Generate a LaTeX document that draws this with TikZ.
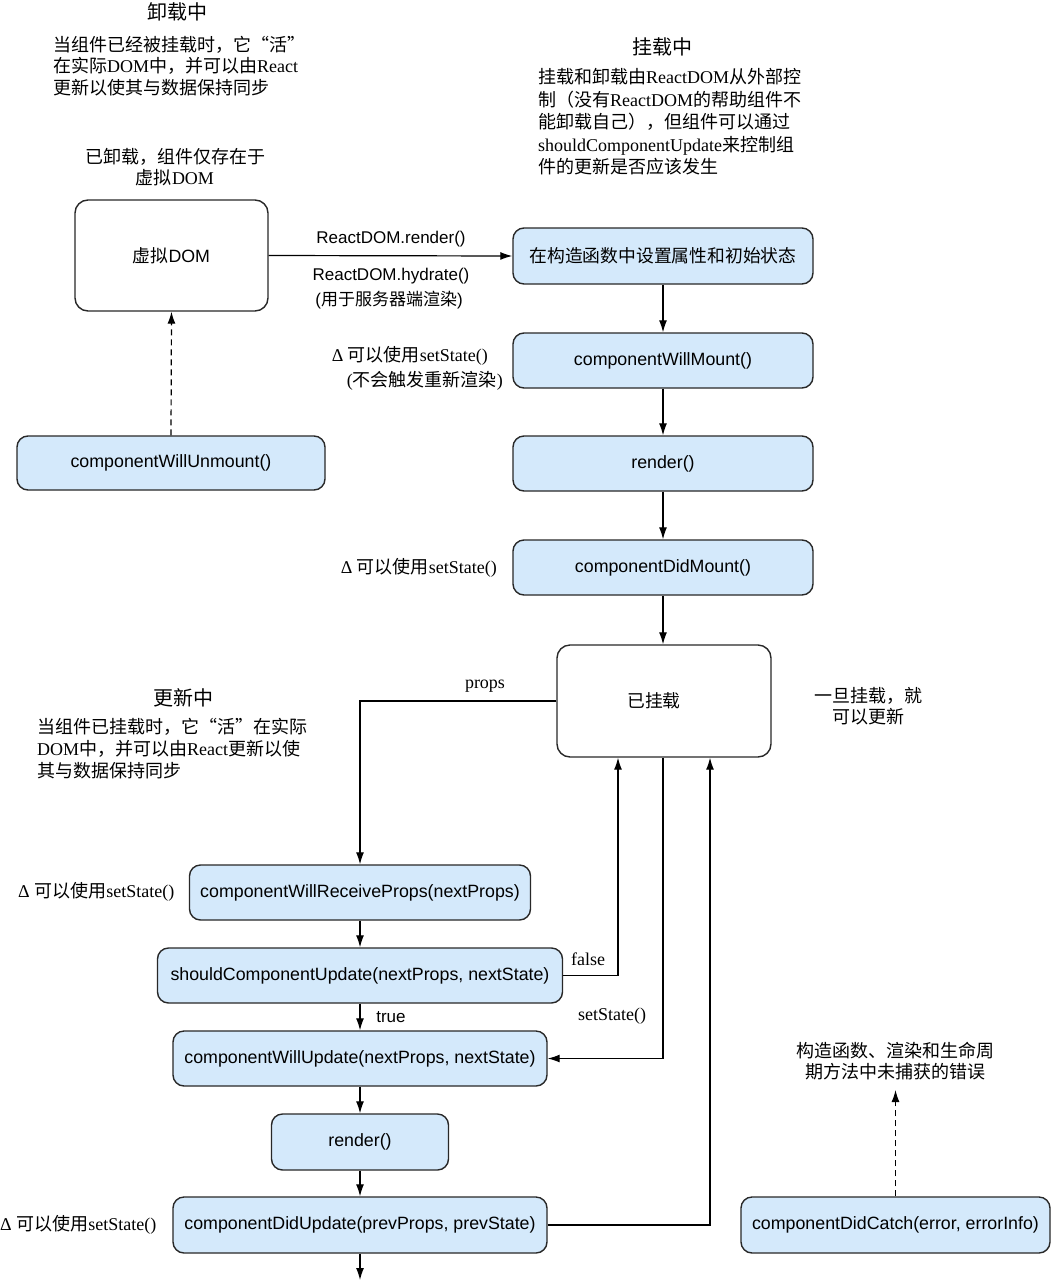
\documentclass[tikz,border=0pt]{standalone}
\usepackage{fontspec}
\setmainfont{Liberation Serif}
\newfontfamily\cjk{Noto Sans CJK SC}
\newfontfamily\arial{Liberation Sans}
\usetikzlibrary{arrows.meta}
\definecolor{boxblue}{RGB}{212,233,251}
\definecolor{edgegray}{RGB}{40,40,40}
\newcommand{\zhs}[1]{{\cjk #1}}
\begin{document}
\begin{tikzpicture}[x=1pt,y=-1pt,
  box/.style={draw=edgegray, line width=1.4pt, rounded corners=11pt, fill=boxblue, inner sep=0pt, font=\arial\fontsize{17.8}{20}\selectfont},
  wbox/.style={box, fill=white, rounded corners=13pt},
  arr/.style={draw=black, line width=1.2pt, -{Latex[length=12pt,width=8pt]}},
  dsh/.style={dash pattern=on 6pt off 4pt},
  txt/.style={inner sep=0pt, font=\fontsize{18}{21.5}\selectfont},
  title/.style={inner sep=0pt, font=\cjk\fontsize{20}{24}\selectfont},
  lab/.style={inner sep=0pt, font=\arial\fontsize{17}{20}\selectfont},
]
\useasboundingbox[fill=white] (0,0) rectangle (1051,1280);

% ---- boxes ----
\node[wbox, minimum width=193pt, minimum height=111pt] (vdom) at (171.5,255.5) {\zhs{虚拟}DOM};
\node[box, minimum width=308pt, minimum height=54pt] (unmount) at (171,463) {componentWillUnmount()};
\node[box, minimum width=300pt, minimum height=56pt] (ctor) at (663,256) {\zhs{在构造函数中设置属性和初始状态}};
\node[box, minimum width=300pt, minimum height=55pt] (willmount) at (663,360.5) {componentWillMount()};
\node[box, minimum width=300pt, minimum height=55pt] (render1) at (663,463.5) {render()};
\node[box, minimum width=300pt, minimum height=55pt] (didmount) at (663,567.5) {componentDidMount()};
\node[wbox, minimum width=214pt, minimum height=112pt] (mounted) at (664,701) {\zhs{已挂载}\hspace*{20pt}};
\node[box, minimum width=341pt, minimum height=55pt] (wrp) at (360,892.5) {componentWillReceiveProps(nextProps)};
\node[box, minimum width=405pt, minimum height=55pt] (scu) at (360,975.5) {shouldComponentUpdate(nextProps, nextState)};
\node[box, minimum width=374pt, minimum height=55pt] (cwu) at (360,1058.5) {componentWillUpdate(nextProps, nextState)};
\node[box, minimum width=177pt, minimum height=56pt] (render2) at (360,1142) {render()};
\node[box, minimum width=374pt, minimum height=56pt] (cdu) at (360,1225) {componentDidUpdate(prevProps, prevState)};
\node[box, minimum width=309pt, minimum height=56pt] (catch) at (895.5,1225) {componentDidCatch(error, errorInfo)};

\coordinate (bottomend) at (360,1280);
\coordinate (catchend) at (895.5,1090);

% ---- connectors ----
\draw[arr] (vdom.east) -- (ctor.west);
\draw[arr, dsh] (unmount.north) -- (vdom.south);
\draw[arr] (ctor.south) -- (willmount.north);
\draw[arr] (willmount.south) -- (render1.north);
\draw[arr] (render1.south) -- (didmount.north);
\draw[arr] (didmount.south) -- (didmount.south |- mounted.north);
\draw[arr] (mounted.west) -| (wrp.north);
\draw[arr] (wrp.south) -- (scu.north);
\draw[arr] (scu.east) -| ([xshift=-46pt]mounted.south);
\draw[arr] (scu.south) -- (cwu.north);
\draw[arr] ([xshift=-1pt]mounted.south) |- (cwu.east);
\draw[arr] (cwu.south) -- (render2.north);
\draw[arr] (render2.south) -- (cdu.north);
\draw[arr] (cdu.south) -- (bottomend);
\draw[arr] (cdu.east) -| ([xshift=46pt]mounted.south);
\draw[arr, dsh] (catch.north) -- (catchend);

% ---- connector labels ----
\node[lab] (lrender) at (391,239) {ReactDOM.render()};
\node[lab] (lhydrate) at (391,276) {ReactDOM.hydrate()};
\node[lab] (lserver) at (389,300) {(\zhs{用于服务器端渲染})};
\node[txt] (lprops) at (485,686) {props};
\node[txt] (lfalse) at (588,959) {false};
\node[lab] (ltrue) at (391,1017) {true};
\node[txt] (lsetstate) at (612,1016) {setState()};

% ---- texts ----
\node[title] (tunmount) at (177,12) {卸载中};
\node[txt, align=left, anchor=west] (punmount) at (53,66) {%
\zhs{当组件已经被挂载时，它“活”}\\
\zhs{在实际}DOM\zhs{中，并可以由}React\\
\zhs{更新以使其与数据保持同步}};
\node[txt, align=center] (pvdom) at (175,167) {\zhs{已卸载，组件仅存在于}\\\zhs{虚拟}DOM};

\node[title] (tmount) at (662,47) {挂载中};
\node[txt, align=left, anchor=west, font=\fontsize{18}{22.5}\selectfont] (pmount) at (538,122) {%
\zhs{挂载和卸载由}ReactDOM\zhs{从外部控}\\
\zhs{制（没有}ReactDOM\zhs{的帮助组件不}\\
\zhs{能卸载自己），但组件可以通过}\\
shouldComponentUpdate\zhs{来控制组}\\
\zhs{件的更新是否应该发生}};

\node[txt, anchor=east] (nwill1) at (488,356) {Δ \zhs{可以使用}setState()};
\node[txt, anchor=east] (nwill2) at (503,381) {(\zhs{不会触发重新渲染})};
\node[txt, anchor=east] (ndid) at (497,568) {Δ \zhs{可以使用}setState()};

\node[title] (tupdate) at (183,698) {更新中};
\node[txt, align=left, anchor=west, font=\fontsize{18}{22}\selectfont] (pupdate) at (37,749) {%
\zhs{当组件已挂载时，它“活”在实际}\\
DOM\zhs{中，并可以由}React\zhs{更新以使}\\
\zhs{其与数据保持同步}};

\node[txt, align=center] (nmounted) at (868,706) {\zhs{一旦挂载，就}\\\zhs{可以更新}};

\node[txt, anchor=west] (nwrp) at (18,892) {Δ \zhs{可以使用}setState()};
\node[txt, anchor=west] (ncdu) at (0,1225) {Δ \zhs{可以使用}setState()};
\node[txt, align=center] (ncatch) at (895,1061) {\zhs{构造函数、渲染和生命周}\\\zhs{期方法中未捕获的错误}};
\end{tikzpicture}
\end{document}
